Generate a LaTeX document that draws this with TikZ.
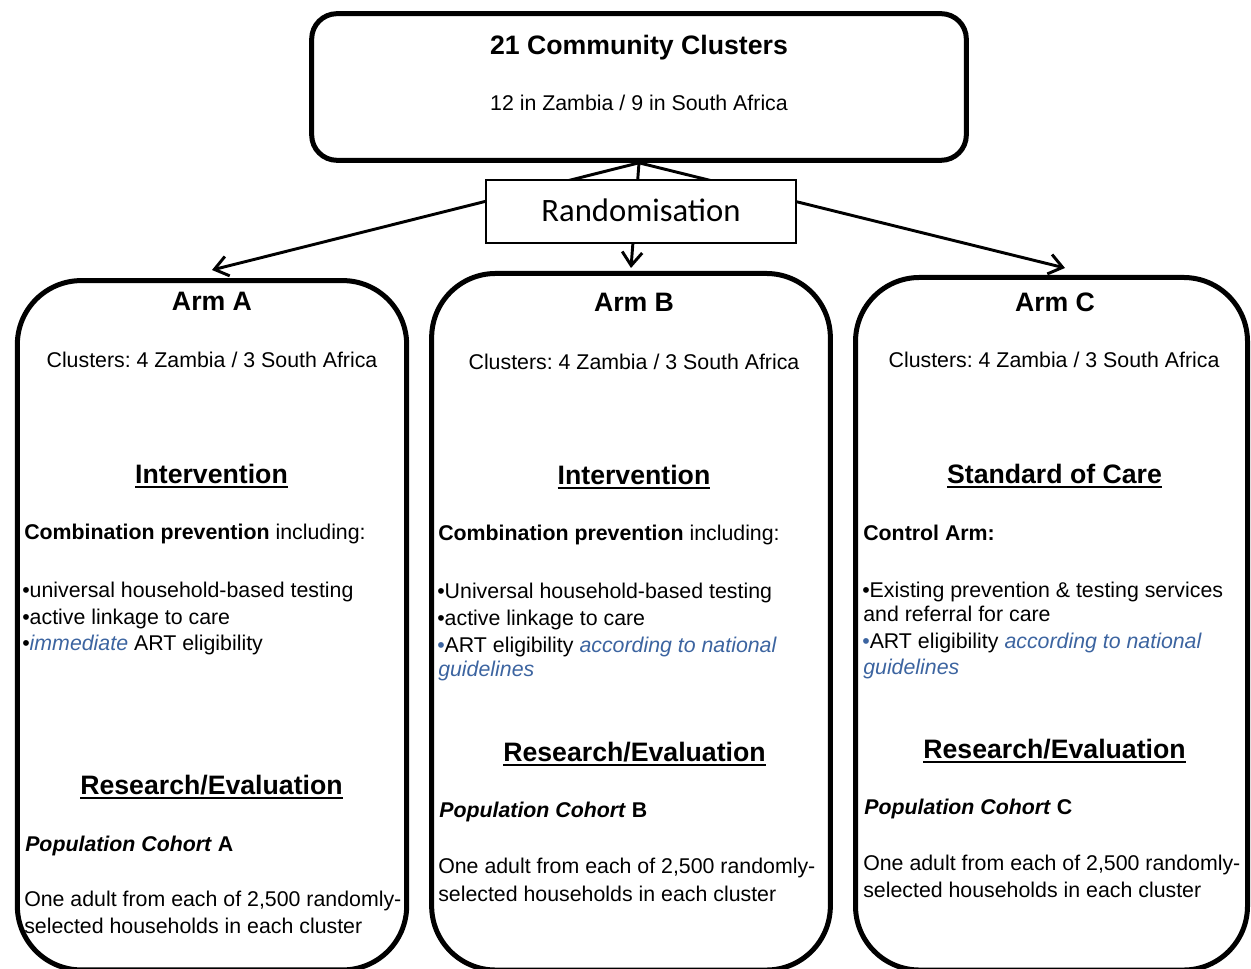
\documentclass[tikz,border=0pt]{standalone}
\usepackage{fontspec}
\setmainfont{Liberation Sans}
\newfontfamily\calib{Carlito}
\usetikzlibrary{arrows.meta}
\definecolor{linkblue}{RGB}{60,100,160}
\frenchspacing
% heading with a thick underline
\newcommand\ulhead[1]{\setbox0\hbox{#1}\rlap{\rule[-3.6pt]{\wd0}{1.4pt}}\box0}
\begin{document}
\begin{tikzpicture}[x=0.75pt,y=-0.75pt,
  panel/.style={draw, line width=3.75pt, inner sep=0pt, rectangle},
  link/.style={line width=2.2pt, -{Straight Barb[length=10pt,width=15pt]}},
  body/.style={font=\fontsize{16}{19}\selectfont, inner sep=0pt, anchor=base west},
  cbody/.style={font=\fontsize{16}{19}\selectfont, inner sep=0pt, anchor=base},
  head/.style={font=\fontsize{20}{24}\selectfont\bfseries, inner sep=0pt, anchor=base}]
\useasboundingbox (0,0) rectangle (1251,969);

% top box
\node[panel, rounded corners=19pt, minimum width=491pt, minimum height=110pt] (top) at (639,87) {};
\node[head] (topT) at (639,55) {21 Community Clusters};
\node[cbody] (topS) at (639,111) {12 in Zambia / 9 in South Africa};

% arm boxes (their bottom edges run off the page)
\node[panel, rounded corners=48pt, minimum width=292pt, minimum height=517pt] (armA) at (212,625.25) {};
\node[panel, rounded corners=48pt, minimum width=299pt, minimum height=522.4pt] (armB) at (631,621.75) {};
\node[panel, rounded corners=48pt, minimum width=294pt, minimum height=519.4pt] (armC) at (1051.5,623.75) {};

% arrow ends just above each arm
\coordinate (tipA) at (212,270);
\coordinate (tipB) at (631,268);
\coordinate (tipC) at (1065,268);
\draw[link] (top.south) -- (tipA);
\draw[link] (top.south) -- (tipB);
\draw[link] (top.south) -- (tipC);

% randomisation box over the links
\node[draw, fill=white, line width=1.1pt, minimum width=232.5pt, minimum height=47pt, inner sep=0pt] (rand) at (641,211.5) {};
\node[inner sep=0pt, anchor=base, font=\calib\fontsize{24.5}{28}\selectfont] (randT) at (641,222) {Randomisation};

% Arm A
\node[head] (aT) at (212,311) {Arm A};
\node[cbody] (aC) at (212,368) {Clusters: 4 Zambia / 3 South Africa};
\node[head] (aH1) at (211.5,483) {\ulhead{Intervention}};
\node[body] (aL1) at (24,539) {\textbf{Combination prevention} including:};
\node[body] (aL2) at (22,597) {•universal household-based testing};
\node[body] (aL3) at (22,624) {•active linkage to care};
\node[body] (aL4) at (22,650) {•\textcolor{linkblue}{\textit{immediate}} ART eligibility};
\node[head] (aH2) at (211.5,794) {\ulhead{Research/Evaluation}};
\node[body] (aL5) at (25,851) {\textbf{\textit{Population Cohort} A}};
\node[body] (aL6) at (24,906) {One adult from each of 2,500 randomly-};
\node[body] (aL7) at (24,933) {selected households in each cluster};

% Arm B
\node[head] (bT) at (634,312) {Arm B};
\node[cbody] (bC) at (634,369) {Clusters: 4 Zambia / 3 South Africa};
\node[head] (bH1) at (634,484) {\ulhead{Intervention}};
\node[body] (bL1) at (438,540) {\textbf{Combination prevention} including:};
\node[body] (bL2) at (437,598) {•Universal household-based testing};
\node[body] (bL3) at (437,625) {•active linkage to care};
\node[body] (bL4) at (437,652) {\textcolor{linkblue}{•}ART eligibility \textcolor{linkblue}{\textit{according to national}}};
\node[body] (bL5) at (438,676) {\textcolor{linkblue}{\textit{guidelines}}};
\node[head] (bH2) at (634.5,761) {\ulhead{Research/Evaluation}};
\node[body] (bL6) at (439,817) {\textbf{\textit{Population Cohort} B}};
\node[body] (bL7) at (438,873) {One adult from each of 2,500 randomly-};
\node[body] (bL8) at (438,901) {selected households in each cluster};

% Arm C
\node[head] (cT) at (1055,312) {Arm C};
\node[cbody] (cC) at (1054,368) {Clusters: 4 Zambia / 3 South Africa};
\node[head] (cH1) at (1054.5,483) {\ulhead{Standard of Care}};
\node[body] (cL1) at (863,540) {\textbf{Control Arm:}};
\node[body] (cL2) at (862,597) {•Existing prevention \& testing services};
\node[body] (cL3) at (863,621) {and referral for care};
\node[body] (cL4) at (862,648) {\textcolor{linkblue}{•}ART eligibility \textcolor{linkblue}{\textit{according to national}}};
\node[body] (cL5) at (863,674) {\textcolor{linkblue}{\textit{guidelines}}};
\node[head] (cH2) at (1054.5,758) {\ulhead{Research/Evaluation}};
\node[body] (cL6) at (864,814) {\textbf{\textit{Population Cohort} C}};
\node[body] (cL7) at (863,870) {One adult from each of 2,500 randomly-};
\node[body] (cL8) at (863,897) {selected households in each cluster};
\end{tikzpicture}
\end{document}
